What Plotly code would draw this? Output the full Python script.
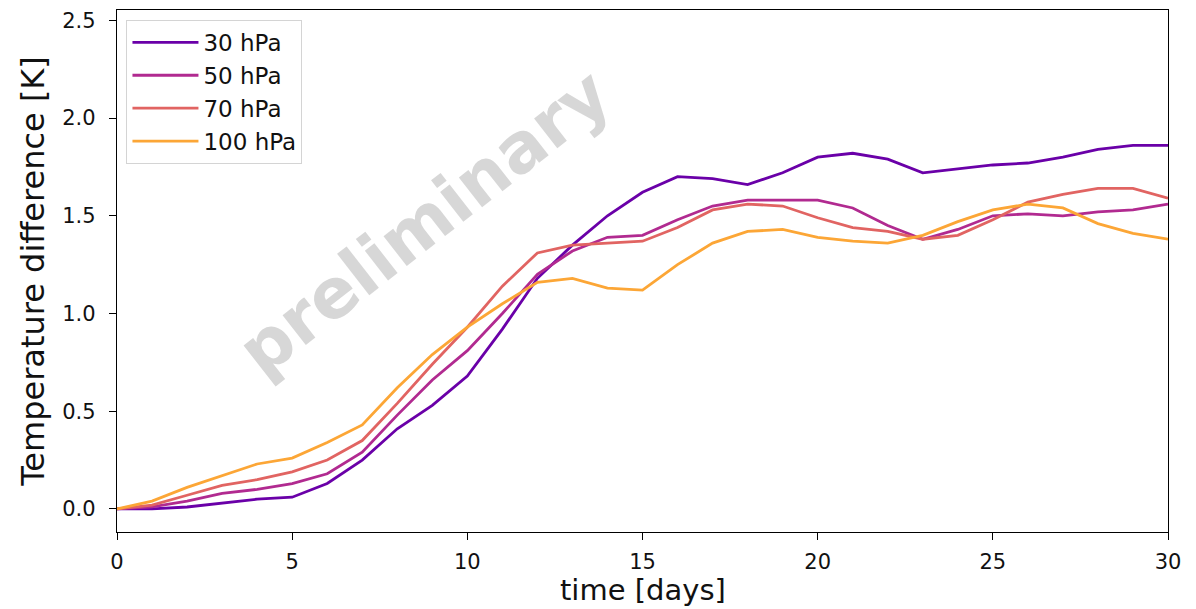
import plotly.graph_objects as go

days = list(range(31))
labels = ["30 hPa", "50 hPa", "70 hPa", "100 hPa"]
t30 = [0.00, 0.00, 0.01, 0.03, 0.05, 0.06, 0.13, 0.25, 0.41, 0.53, 0.68, 0.92, 1.18, 1.35, 1.50, 1.62, 1.70, 1.69, 1.66, 1.72, 1.80, 1.82, 1.79, 1.72, 1.74, 1.76, 1.77, 1.80, 1.84, 1.86, 1.86]
t50 = [0.00, 0.01, 0.04, 0.08, 0.10, 0.13, 0.18, 0.29, 0.48, 0.66, 0.81, 1.00, 1.20, 1.32, 1.39, 1.40, 1.48, 1.55, 1.58, 1.58, 1.58, 1.54, 1.45, 1.38, 1.43, 1.50, 1.51, 1.50, 1.52, 1.53, 1.56]
t70 = [0.00, 0.02, 0.07, 0.12, 0.15, 0.19, 0.25, 0.35, 0.54, 0.74, 0.93, 1.14, 1.31, 1.35, 1.36, 1.37, 1.44, 1.53, 1.56, 1.55, 1.49, 1.44, 1.42, 1.38, 1.40, 1.48, 1.57, 1.61, 1.64, 1.64, 1.59]
t100 = [0.00, 0.04, 0.11, 0.17, 0.23, 0.26, 0.34, 0.43, 0.62, 0.79, 0.93, 1.05, 1.16, 1.18, 1.13, 1.12, 1.25, 1.36, 1.42, 1.43, 1.39, 1.37, 1.36, 1.40, 1.47, 1.53, 1.56, 1.54, 1.46, 1.41, 1.38]
colors = ["#6a00a8", "#b12a90", "#e16462", "#fca636"]

L, R, T, B = 117, 1168, 10, 532

fig = go.Figure()
for name, ys, c in zip(labels, [t30, t50, t70, t100], colors):
    fig.add_trace(go.Scatter(x=days, y=ys, mode="lines", name=name,
                             line=dict(color=c, width=2.8)))

fig.add_annotation(text="<b>preliminary</b>",
                   x=(424 - L) / (R - L), y=(B - 222) / (B - T),
                   xref="paper", yref="paper", xanchor="center", yanchor="middle",
                   showarrow=False, textangle=-38,
                   font=dict(family="DejaVu Sans", size=69, color="rgba(150,150,150,0.38)"))

# x-axis title placed below the tick labels
fig.add_annotation(text="time [days]", x=0.5, y=(B - 572) / (B - T),
                   xref="paper", yref="paper", xanchor="center", yanchor="top",
                   showarrow=False, borderpad=0,
                   font=dict(family="DejaVu Sans", size=29, color="#111111"))

axis_common = dict(showline=True, linecolor="black", linewidth=1.4, mirror=True,
                   ticks="outside", ticklen=7, tickwidth=1.3, tickcolor="black",
                   showgrid=False, zeroline=False, automargin=False,
                   tickfont=dict(family="DejaVu Sans", size=21, color="#111111"))

fig.update_xaxes(range=[0, 30], tickvals=[0, 5, 10, 15, 20, 25, 30], ticklabelstandoff=4,
                 **axis_common)
fig.update_yaxes(range=[-0.118, 2.553], tickvals=[0, 0.5, 1.0, 1.5, 2.0, 2.5],
                 ticktext=["0.0", "0.5", "1.0", "1.5", "2.0", "2.5"], ticklabelstandoff=9,
                 title=dict(text="Temperature difference [K]", standoff=7,
                            font=dict(family="DejaVu Sans", size=32, color="#111111")),
                 **axis_common)

fig.update_layout(
    width=1196, height=609,
    margin=dict(l=L, r=1196 - R, t=T, b=609 - B, autoexpand=False),
    plot_bgcolor="white", paper_bgcolor="white",
    legend=dict(x=0.009, y=0.981, xanchor="left", yanchor="top",
                bgcolor="rgba(255,255,255,0.85)", bordercolor="#d4d4d4", borderwidth=1,
                font=dict(family="DejaVu Sans", size=23, color="#111111"),
                itemwidth=66),
    showlegend=True,
)

fig.write_html("out.html")
